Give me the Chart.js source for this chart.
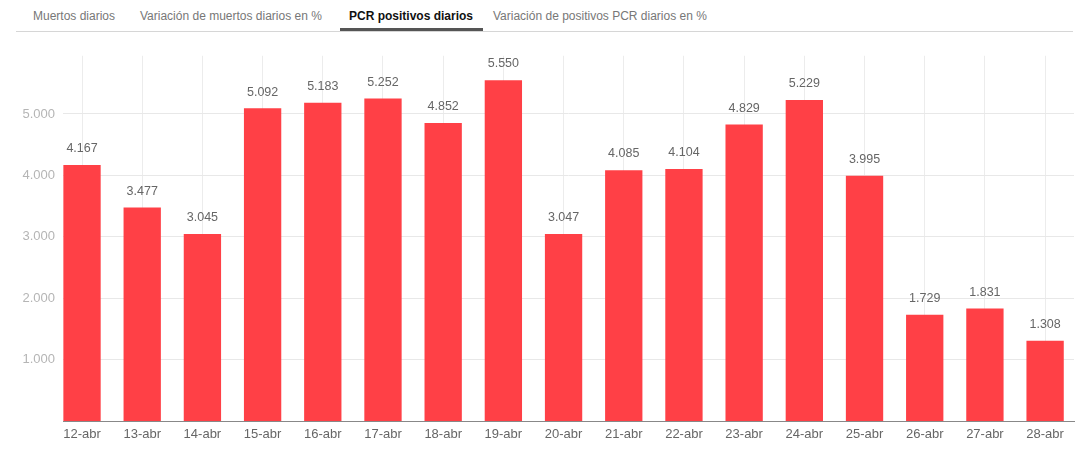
<!DOCTYPE html>
<html>
<head>
<meta charset="utf-8">
<script src="https://cdn.jsdelivr.net/npm/chart.js@4.4.0/dist/chart.umd.min.js"></script>
<style>
  html, body { margin: 0; padding: 0; background: #fff; }
  body { width: 1080px; height: 453px; position: relative; overflow: hidden;
         font-family: "Liberation Sans", Arial, sans-serif; }
  .tabs { position: absolute; left: 16px; top: 0; width: 1057px; height: 31px;
          border-bottom: 1px solid #d6d6d6; }
  .tab { position: absolute; top: 9px; font-size: 12px; color: #777; white-space: nowrap; }
  .tab.active { color: #111; font-weight: bold; }
  .bar { position: absolute; left: 324px; top: 28px; width: 143px; height: 3px; background: #555; }
  .wrap { position: absolute; left: 0; top: 40px; width: 1080px; height: 413px; }
</style>
</head>
<body>
<div class="tabs">
  <span class="tab" style="left:17px">Muertos diarios</span>
  <span class="tab" style="left:124px">Variación de muertos diarios en %</span>
  <span class="tab active" style="left:333px">PCR positivos diarios</span>
  <span class="tab" style="left:477px">Variación de positivos PCR diarios en %</span>
  <div class="bar"></div>
</div>
<div class="wrap"><canvas id="myChart"></canvas></div>
<script>
const ctx = document.getElementById('myChart').getContext('2d');

const dias = ['12-abr', '13-abr', '14-abr', '15-abr', '16-abr', '17-abr', '18-abr', '19-abr',
              '20-abr', '21-abr', '22-abr', '23-abr', '24-abr', '25-abr', '26-abr', '27-abr', '28-abr'];
const positivos = [4167, 3477, 3045, 5092, 5183, 5252, 4852, 5550,
                   3047, 4085, 4104, 4829, 5229, 3995, 1729, 1831, 1308];
const yTicks = [1000, 2000, 3000, 4000, 5000];

function puntos(n) {
    return String(n).replace(/\B(?=(\d{3})+(?!\d))/g, '.');
}

// etiquetas de valor encima de cada barra
const valueLabels = {
    id: 'valueLabels',
    afterDatasetsDraw(chart) {
        const c = chart.ctx;
        const meta = chart.getDatasetMeta(0);
        c.save();
        c.font = '12.5px "Liberation Sans", Arial, sans-serif';
        c.fillStyle = '#666';
        c.textAlign = 'center';
        c.textBaseline = 'bottom';
        meta.data.forEach(function(el, i) {
            c.fillText(puntos(positivos[i]), el.x, el.y - 10);
        });
        c.restore();
    }
};

const config = {
    type: 'bar',
    data: {
        datasets: [{
            label: 'PCR positivos diarios',
            data: positivos.map(function(v, i) { return {x: i, y: v}; }),
            backgroundColor: '#ff4046',
            borderWidth: 0,
            barPercentage: 0.62,
            categoryPercentage: 1
        }]
    },
    options: {
        responsive: false,
        animation: false,
        layout: {padding: {left: 0, right: 6, top: 12, bottom: 0}},
        scales: {
            x: {
                type: 'linear',
                offset: false,
                min: -0.316,
                max: 16.48,
                afterBuildTicks: function(scale) {
                    scale.ticks = dias.map(function(d, i) { return {value: i}; });
                },
                afterFit: function(scale) { scale.height = 32; },
                ticks: {
                    autoSkip: false,
                    maxRotation: 0,
                    padding: 6,
                    color: '#666',
                    font: {family: '"Liberation Sans", Arial, sans-serif', size: 13},
                    callback: function(v) { return dias[v]; }
                },
                grid: {color: '#ececec', drawTicks: false, offset: false},
                border: {display: true, color: '#888'}
            },
            y: {
                min: 0,
                max: 5947,
                afterBuildTicks: function(scale) {
                    scale.ticks = yTicks.map(function(v) { return {value: v}; });
                },
                afterFit: function(scale) { scale.width = 63; },
                ticks: {
                    padding: 8,
                    color: '#b5b5b5',
                    font: {family: '"Liberation Sans", Arial, sans-serif', size: 13},
                    callback: function(v) { return puntos(v); }
                },
                grid: {color: '#e8e8e8', drawTicks: false},
                border: {display: false}
            }
        },
        plugins: {
            legend: {display: false},
            tooltip: {enabled: false}
        }
    },
    plugins: [valueLabels]
};

ctx.canvas.width = 1080;
ctx.canvas.height = 413;
const myChart = new Chart(ctx, config);
</script>
</body>
</html>
